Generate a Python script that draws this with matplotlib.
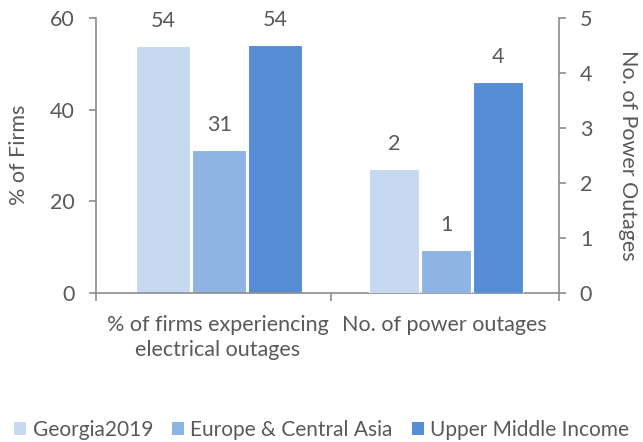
import matplotlib
matplotlib.use("Agg")
import matplotlib.pyplot as plt
from matplotlib.patches import Patch

categories = ["% of firms experiencing\nelectrical outages", "No. of power outages"]
series = ["Georgia2019", "Europe & Central Asia", "Upper Middle Income"]
pct_firms = [53.8, 31.2, 54.1]          # left axis
num_outages = [2.25, 0.78, 3.84]        # right axis
labels_pct = ["54", "31", "54"]
labels_num = ["2", "1", "4"]
colors = ["#C6D9F0", "#8EB4E3", "#558ED5"]

TXT = "#595959"
SP = "#8c8c8c"
plt.rcParams["font.family"] = ["Lato", "DejaVu Sans"]
FS = 15.5

fig = plt.figure(figsize=(6.43, 4.42), dpi=100)
W, H = 643, 442
L, R, T, B = 95.7, 559, 18, 293
ax = fig.add_axes([L / W, 1 - B / H, (R - L) / W, (B - T) / H])
ax2 = ax.twinx()

xlo, xhi = -0.541, 1.509
ax.set_xlim(xlo, xhi)
ax.set_ylim(0, 60)
ax2.set_ylim(0, 5)

# group 1 on left axis
sp1, w1 = 0.248, 0.238
for i, (v, c, lab) in enumerate(zip(pct_firms, colors, labels_pct)):
    x = 0 + (i - 1) * sp1 + 0.005
    ax.bar(x, v, width=w1, color=c, edgecolor="white", linewidth=0.8)
    ax.annotate(lab, (x, v), xytext=(0, 18), textcoords="offset points",
                ha="center", va="center", fontsize=FS, color=TXT)
# group 2 on right axis
sp2, w2 = 0.23, 0.221
for i, (v, c, lab) in enumerate(zip(num_outages, colors, labels_num)):
    x = 1 + (i - 1) * sp2 + 0.009
    ax2.bar(x, v, width=w2, color=c, edgecolor="white", linewidth=0.8)
    ax2.annotate(lab, (x, v), xytext=(0, 18), textcoords="offset points",
                 ha="center", va="center", fontsize=FS, color=TXT)

ax.set_yticks([0, 20, 40, 60])
ax2.set_yticks([0, 1, 2, 3, 4, 5])
ax.set_xticks([xlo, 0.5, xhi])
ax.set_xticklabels([])
for a in (ax, ax2):
    for s in a.spines.values():
        s.set_visible(False)
    a.tick_params(colors=SP, labelcolor=TXT, labelsize=FS, length=5, width=1.2, pad=10)
ax.spines["left"].set_visible(True)
ax.spines["bottom"].set_visible(True)
ax2.spines["right"].set_visible(True)
for s in (ax.spines["left"], ax.spines["bottom"], ax2.spines["right"]):
    s.set_color(SP)
    s.set_linewidth(1.2)
ax.tick_params(axis="x", length=6)

for xc, cat in zip([0, 1], categories):
    ax.text(xc, -0.08, cat, transform=ax.get_xaxis_transform(), ha="center", va="top",
            fontsize=FS, color=TXT, linespacing=1.3)

fig.text(19 / W, 1 - 155 / H, "% of Firms", rotation=90, ha="center", va="center",
         fontsize=FS, color=TXT)
fig.text(628 / W, 1 - 155 / H, "No. of Power Outages", rotation=-90, ha="center",
         va="center", fontsize=FS, color=TXT)

handles = [Patch(facecolor=c, edgecolor="none") for c in colors]
fig.legend(handles, series, loc="center", bbox_to_anchor=(0.5, 1 - 430 / H), ncol=3,
           frameon=False, fontsize=15, labelcolor=TXT, handlelength=0.6, handleheight=0.6,
           handletextpad=0.3, columnspacing=0.9, borderaxespad=0, borderpad=0)

fig.savefig("out.png", dpi=100)
